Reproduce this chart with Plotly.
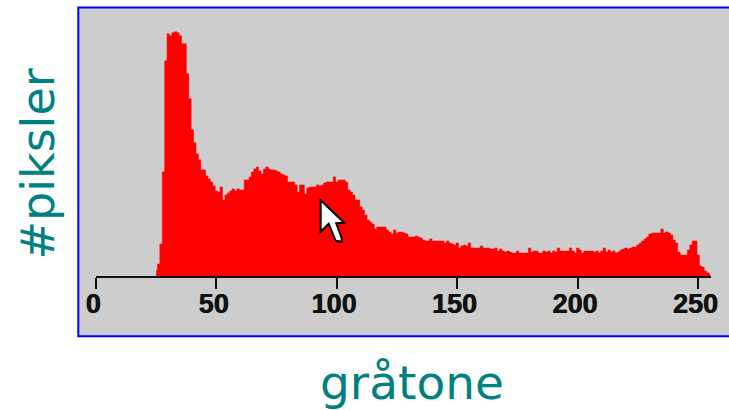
import plotly.graph_objects as go

gray_levels = list(range(25, 256))
pixel_counts = [
    6, 12, 32, 104, 215, 242, 240, 243, 244, 243, 240, 232, 232, 202, 177, 146, 133, 122, 116, 106,
    106, 100, 97, 94, 90, 85, 84, 89, 76, 81, 83, 85, 87, 85, 87, 86, 86, 96, 96, 99,
    104, 107, 109, 105, 102, 107, 109, 107, 106, 106, 105, 104, 102, 101, 100, 94, 94, 94, 91, 84,
    91, 91, 82, 88, 89, 89, 89, 91, 90, 91, 93, 94, 94, 94, 99, 94, 96, 96, 96, 94,
    86, 84, 81, 76, 76, 69, 66, 61, 56, 54, 52, 47, 49, 49, 49, 49, 46, 44, 42, 46,
    43, 44, 44, 43, 42, 39, 39, 39, 40, 39, 38, 36, 35, 35, 37, 35, 35, 35, 35, 35,
    33, 35, 33, 32, 31, 33, 28, 30, 31, 30, 33, 28, 28, 28, 28, 30, 28, 28, 28, 27,
    27, 28, 25, 27, 25, 24, 25, 24, 23, 23, 25, 23, 23, 23, 23, 28, 24, 25, 25, 23,
    23, 25, 24, 25, 23, 25, 24, 28, 25, 25, 25, 25, 28, 25, 23, 28, 26, 23, 25, 25,
    25, 25, 24, 25, 23, 25, 28, 24, 26, 24, 25, 23, 24, 26, 27, 28, 27, 28, 29, 29,
    31, 33, 35, 37, 39, 42, 43, 43, 43, 43, 47, 43, 44, 43, 41, 36, 33, 24, 21, 21,
    21, 26, 31, 35, 35, 21, 10, 9, 5, 3, 2,
]
tick_values = [0, 50, 100, 150, 200, 250]
x_title = "gråtone"
y_title = "#piksler"

W, H = 729, 410
L, R, T, B = 95.7, 711.0, 7.0, 275.7
px_per_gray = 2.41
px_per_count = 1.0


def fx(p):
    return (p - L) / (R - L)


def fy(p):
    return (B - p) / (B - T)


def path(points):
    return "M " + " L ".join(f"{fx(x):.5f},{fy(y):.5f}" for x, y in points) + " Z"


cursor = [(320.5, 200), (320.5, 231.5), (328.5, 223.5), (335.5, 240.5), (341.5, 241.5),
          (341.5, 238), (336, 223), (344, 222.5)]

fig = go.Figure(go.Scatter(x=gray_levels, y=pixel_counts, mode="lines", fill="tozeroy",
                           fillcolor="#ff0000", line=dict(color="#ff0000", width=0.5, shape="hvh")))
fig.update_layout(
    width=W, height=H, autosize=False, showlegend=False,
    paper_bgcolor="#ffffff", plot_bgcolor="rgba(0,0,0,0)",
    margin=dict(l=L, r=W - R, t=T, b=H - B, pad=0),
    xaxis=dict(range=[0, (R - L) / px_per_gray], tickvals=tick_values, ticks="outside",
               ticklen=11, tickwidth=2, tickcolor="#111111", showline=True, linecolor="#111111",
               linewidth=2, showgrid=False, zeroline=False, ticklabelstandoff=-8, ticklabelshift=-3,
               tickfont=dict(family="Liberation Sans", size=27, color="#111111", weight=700,
                             shadow="0.7px 0 0 #111111")),
    yaxis=dict(range=[0, (B - T) / px_per_count], visible=False, showgrid=False, zeroline=False),
    shapes=[
        dict(type="rect", xref="paper", yref="paper", x0=fx(78), x1=fx(732), y0=fy(336), y1=fy(7.5),
             fillcolor="#cdcdcd", line=dict(color="#0000ff", width=2), layer="below"),
        dict(type="path", xref="paper", yref="paper", path=path(cursor), fillcolor="#ffffff",
             line=dict(color="#000000", width=2), layer="above"),
    ],
    annotations=[
        dict(text=x_title, xref="paper", yref="paper", x=fx(412), y=fy(382), xanchor="center",
             yanchor="middle", showarrow=False,
             font=dict(family="DejaVu Sans", size=47, color="#008080")),
        dict(text=y_title, xref="paper", yref="paper", x=fx(38), y=fy(164), xanchor="center",
             yanchor="middle", showarrow=False, textangle=-90,
             font=dict(family="DejaVu Sans", size=46, color="#008080")),
    ],
)
fig.write_html("out.html", config={"displayModeBar": False},
               post_script="document.body.style.margin='0';document.body.style.overflow='hidden';")
